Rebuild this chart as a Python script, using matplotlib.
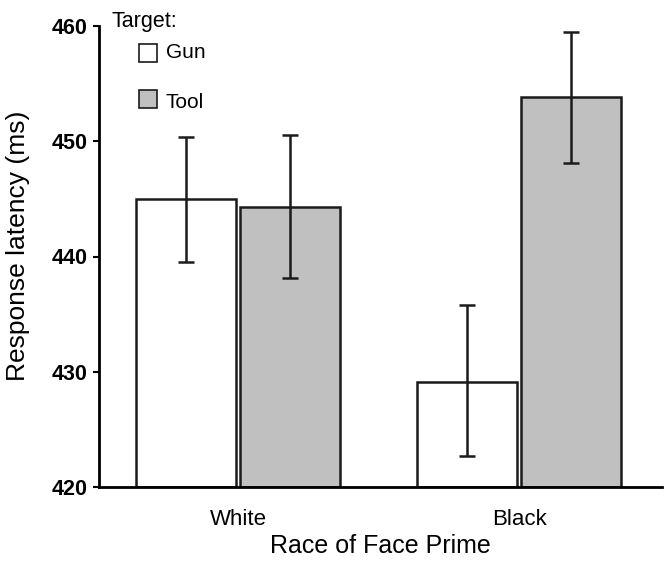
import matplotlib
matplotlib.use("Agg")
import matplotlib.pyplot as plt
from matplotlib.patches import Rectangle
import numpy as np

plt.rcParams['font.family'] = ['Liberation Sans', 'DejaVu Sans']

categories = ["White", "Black"]
series_names = ["Gun", "Tool"]
gun_means = [445.0, 429.1]
tool_means = [444.3, 453.8]
gun_lower = [439.5, 422.7]
gun_upper = [450.4, 435.8]
tool_lower = [438.1, 448.1]
tool_upper = [450.5, 459.5]
yticks = [420, 430, 440, 450, 460]

fig = plt.figure(figsize=(6.64, 5.62), dpi=100)
ax = fig.add_axes([99/664, 1-487/562, 563/664, 461/562])

x = np.arange(len(categories))
w = 0.356
off = 0.185
colors = ["white", "#c0c0c0"]
for means, lo, hi, dx, c in [(gun_means, gun_lower, gun_upper, -off, colors[0]),
                             (tool_means, tool_lower, tool_upper, off, colors[1])]:
    m = np.array(means)
    ax.bar(x + dx, m - 420, bottom=420, width=w, color=c, edgecolor="#1a1a1a", linewidth=1.8)
    yerr = [m - np.array(lo), np.array(hi) - m]
    ax.errorbar(x + dx, m, yerr=yerr, fmt="none", ecolor="#1a1a1a", elinewidth=1.8,
                capsize=6, capthick=1.8)

ax.set_xlim(-0.495, 1.509)
ax.set_ylim(420, 460)
ax.set_yticks(yticks)
ax.set_yticklabels([str(t) for t in yticks], fontweight="bold", fontsize=15.5)
ax.set_xticks(x)
ax.set_xticklabels(categories, fontsize=16)
ax.tick_params(axis="x", length=0, pad=16)
ax.tick_params(axis="y", length=4.5, width=1.5, direction="out", pad=4)
for s in ["top", "right"]:
    ax.spines[s].set_visible(False)
for s in ["left", "bottom"]:
    ax.spines[s].set_linewidth(2)
ax.set_ylabel("Response latency (ms)", fontsize=19)
ax.yaxis.set_label_coords(-0.1226, 0.523)
ax.set_xlabel("Race of Face Prime", fontsize=18, labelpad=3)

# legend
ax.text(0.023, 1.009, "Target:", transform=ax.transAxes, fontsize=15.5, va="center", ha="left", clip_on=False)
for i, (name, c) in enumerate(zip(series_names, colors)):
    y0 = [0.922, 0.822][i]
    ax.add_patch(Rectangle((0.071, y0), 0.032, 0.039, transform=ax.transAxes,
                           facecolor=c, edgecolor="#1a1a1a", linewidth=1.2, clip_on=False))
    ax.text(0.119, y0 + [0.02, 0.012][i], name, transform=ax.transAxes, fontsize=15, va="center", ha="left")

fig.savefig("out.png", dpi=100)
